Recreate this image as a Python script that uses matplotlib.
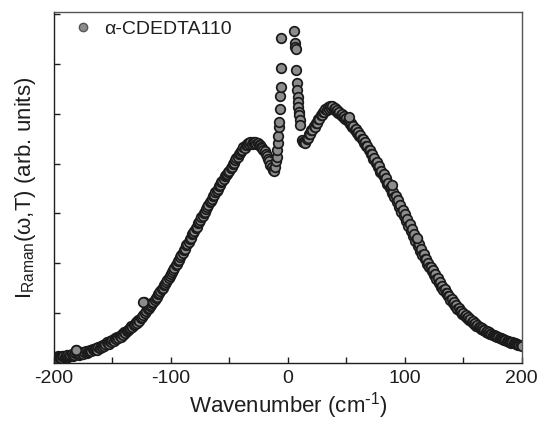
import numpy as np
import matplotlib
matplotlib.use("Agg")
import matplotlib.pyplot as plt

plt.rcParams['font.family'] = ['Liberation Sans', 'DejaVu Sans']
plt.rcParams['mathtext.default'] = 'regular'
plt.rcParams['axes.unicode_minus'] = False

# ---- data (arbitrary units), one point per cm^-1 ----
left_wn = np.arange(-200, -13, 1)
left_I = [6, 5, 5, 7, 6, 6, 5, 7, 7, 6,
          7, 8, 6, 7, 8, 9, 7, 8, 10, 13,
          10, 8, 9, 11, 10, 9, 11, 12, 10, 11,
          12, 13, 12, 14, 13, 14, 15, 13, 16, 15,
          17, 16, 18, 17, 19, 21, 20, 19, 22, 21,
          23, 22, 25, 24, 26, 25, 27, 26, 29, 28,
          31, 30, 32, 33, 34, 35, 37, 36, 38, 39,
          41, 40, 43, 42, 45, 46, 48, 61, 50, 52,
          54, 55, 57, 58, 60, 61, 63, 65, 66, 69,
          70, 72, 74, 75, 78, 79, 81, 83, 85, 87,
          89, 91, 93, 95, 98, 99, 102, 103, 106, 108,
          110, 113, 114, 118, 119, 121, 124, 125, 129, 130,
          132, 135, 136, 140, 141, 143, 146, 147, 150, 151,
          154, 156, 158, 161, 162, 164, 167, 168, 171, 172,
          174, 177, 178, 181, 182, 184, 187, 188, 189, 192,
          193, 196, 197, 200, 201, 204, 206, 207, 210, 211,
          213, 214, 217, 216, 219, 219, 221, 220, 222, 220,
          222, 221, 222, 220, 221, 219, 219, 217, 216, 214,
          213, 210, 208, 205, 203, 199, 197]

center_left_wn = [-13, -12, -11, -10, -9.5, -9, -8.6, -8.2, -7.8, -7.4, -7, -6.6, -6.3, -6, -5.7]
center_left_I = [194, 193, 197, 203, 207, 214, 221, 228, 237, 242, 255, 268, 277, 296, 326]

center_right_wn = [5.6, 5.9, 6.2, 6.5, 7.0, 7.4, 7.8, 8.2, 8.6, 9.0, 9.4, 9.8, 10.2, 10.7]
center_right_I = [333, 321, 317, 315, 294, 281, 274, 267, 262, 257, 252, 249, 244, 239]

right_wn = np.arange(12, 201, 1)
right_I = [224, 222, 222, 221, 225, 226, 230, 230, 234, 234,
           238, 237, 241, 241, 245, 245, 249, 249, 252, 252,
           255, 254, 257, 255, 258, 256, 258, 255, 256, 253,
           254, 251, 252, 249, 250, 247, 248, 245, 246, 243,
           243, 240, 241, 237, 238, 234, 235, 231, 232, 228,
           229, 225, 225, 221, 222, 218, 218, 214, 214, 210,
           210, 205, 206, 201, 202, 197, 198, 192, 193, 188,
           189, 184, 185, 179, 180, 175, 176, 170, 171, 166,
           167, 161, 163, 156, 158, 151, 153, 147, 149, 142,
           144, 137, 139, 132, 134, 127, 129, 122, 124, 117,
           119, 112, 114, 108, 109, 104, 104, 99, 100, 96,
           96, 92, 93, 88, 89, 84, 85, 80, 81, 76,
           77, 73, 74, 70, 70, 67, 67, 63, 64, 60,
           61, 57, 58, 54, 55, 52, 52, 49, 50, 47,
           48, 45, 46, 43, 44, 41, 42, 39, 40, 37,
           38, 36, 36, 34, 35, 33, 33, 31, 32, 30,
           31, 29, 29, 28, 28, 27, 27, 26, 26, 25,
           25, 24, 24, 23, 23, 22, 22, 21, 21, 20,
           21, 20, 20, 19, 19, 18, 18, 18, 17]

outlier_wn = [-181, -124, 52, 89, 110]
outlier_I = [13, 61, 247, 178, 125]

wn = np.concatenate([left_wn, center_left_wn, center_right_wn, right_wn, outlier_wn])
inten = np.concatenate([left_I, center_left_I, center_right_I, right_I, outlier_I])

label = "\u03b1-CDEDTA110"

fig = plt.figure(figsize=(5.38, 4.22), dpi=100)
ax = fig.add_axes([0.1004, 0.140, 0.8695, 0.8316])

ax.plot(wn, inten, linestyle='none', marker='o', markersize=6.9,
        markerfacecolor='#8c8c8c', markeredgecolor='#1a1a1a',
        markeredgewidth=1.25, label=label)

ax.set_xlim(-200, 200)
ax.set_ylim(0, 352)
ax.set_xticks([-200, -100, 0, 100, 200])
ax.set_xticks([-150, -50, 50, 150], minor=True)
ax.set_yticks([50, 100, 150, 200, 250, 300, 350])
ax.set_yticklabels([])
ax.tick_params(axis='both', which='both', direction='in', top=False, right=False)
ax.tick_params(axis='both', which='major', length=4.5, width=1.0, labelsize=14, colors='#1e1e1e')
ax.tick_params(axis='both', which='minor', length=4.0, width=1.0, colors='#1e1e1e')
ax.tick_params(axis='x', labelcolor='#1e1e1e', pad=5)
for s in ['left', 'bottom']:
    ax.spines[s].set_color('#1e1e1e')
    ax.spines[s].set_linewidth(1.0)
for s in ['top', 'right']:
    ax.spines[s].set_color('#555555')
    ax.spines[s].set_linewidth(1.0)

ax.set_xlabel(r"Wavenumber (cm$^{\text{-}1}$)", fontsize=16, color='#1e1e1e', labelpad=2)
ax.set_ylabel("I$_{Raman}$(\u03c9,T) (arb. units)", fontsize=16, color='#1e1e1e', labelpad=8)

leg = ax.legend(loc='upper left', bbox_to_anchor=(0.012, 1.014), frameon=False, fontsize=14,
                handlelength=1.0, handletextpad=0.6, borderaxespad=0.3, labelcolor='#1e1e1e')
for h in leg.legend_handles:
    h.set_markeredgecolor('#555555')
    h.set_markeredgewidth(1.0)
    h.set_markersize(6.0)

fig.savefig('out.png', dpi=100)
